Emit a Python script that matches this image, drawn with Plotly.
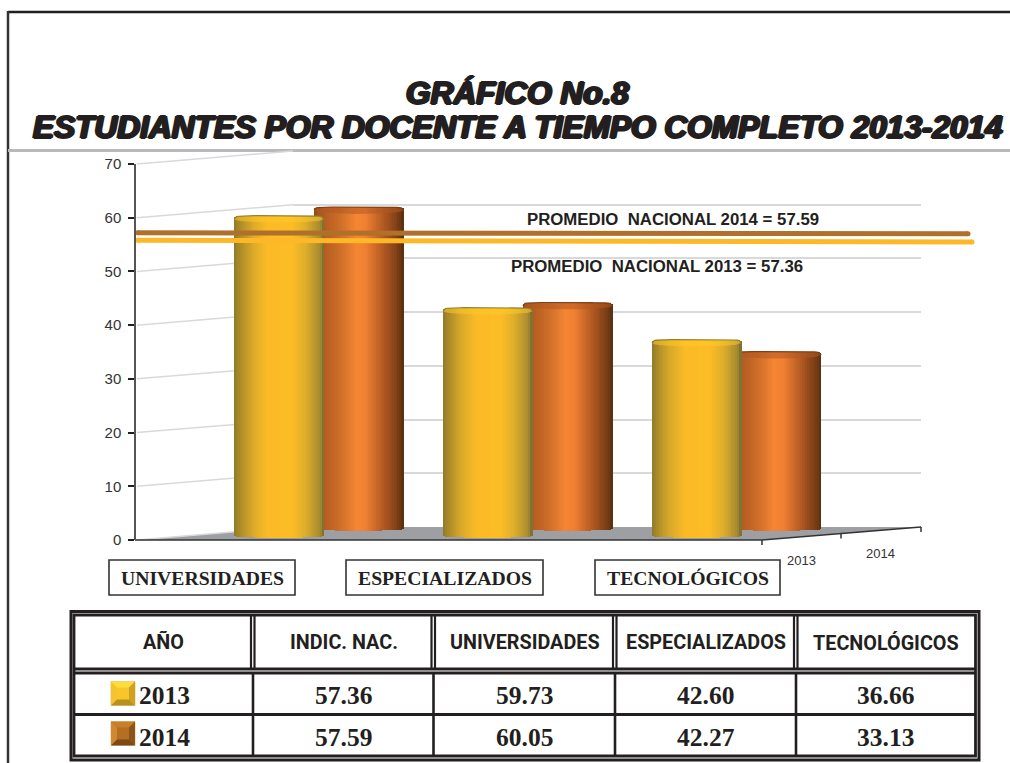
import plotly.graph_objects as go

# ---------- data ----------
categories = ["UNIVERSIDADES", "ESPECIALIZADOS", "TECNOLÓGICOS"]
years = ["2013", "2014"]
values_2013 = [59.73, 42.60, 36.66]
values_2014 = [60.05, 42.27, 33.13]
national_2013 = 57.36
national_2014 = 57.59
# where the two average lines are actually drawn on the value axis (left end, right end)
line_drawn_2014 = [57.2, 57.0]
line_drawn_2013 = [55.8, 55.5]
y_ticks = [0, 10, 20, 30, 40, 50, 60, 70]
table_header = ["AÑO", "INDIC. NAC.", "UNIVERSIDADES", "ESPECIALIZADOS", "TECNOLÓGICOS"]
title_lines = ["GRÁFICO No.8", "ESTUDIANTES POR DOCENTE A TIEMPO COMPLETO 2013-2014"]

# ---------- page geometry ----------
W, H = 1010, 763
def X(px): return px / W
def Y(py): return 1 - py / H
PX_PER_UNIT = 376 / 70
FRONT_ZERO, MID_ZERO, BACK_ZERO = 540, 533, 527
def domain_y(zero): return [Y(zero), Y(zero - 70 * PX_PER_UNIT)]
X0_13, X0_14, STEP = 279.0, 358.8, 208.85
BAR_PX = 89.5
def xrange(x0): return [(0 - x0) / STEP, (W - x0) / STEP]
def front(v): return FRONT_ZERO - v * PX_PER_UNIT
def back(v): return BACK_ZERO - v * PX_PER_UNIT

# ---------- cylinder helpers ----------
def hex2rgb(c): return [int(c[i:i + 2], 16) for i in (1, 3, 5)]
def ramp(t, stops):
    for (t0, c0), (t1, c1) in zip(stops, stops[1:]):
        if t <= t1:
            f = (t - t0) / (t1 - t0)
            a, b = hex2rgb(c0), hex2rgb(c1)
            return "rgb(%d,%d,%d)" % tuple(a[i] + (b[i] - a[i]) * f for i in range(3))
    return stops[-1][1]

GOLD = [(-1, "#8a7a30"), (-.94, "#a08428"), (-.6, "#d8a92a"), (-.25, "#fcbb26"), (.3, "#fdbd26"),
        (.6, "#deae2c"), (.92, "#a58a30"), (1, "#756a30")]
COPPER = [(-1, "#8f4a1c"), (-.9, "#a9561f"), (-.4, "#cf6f2a"), (-.05, "#f58634"), (.15, "#f28233"),
          (.55, "#b25a22"), (.92, "#743a14"), (1, "#54300f")]
N = 46
WIDTH = BAR_PX / STEP
ts = [-1 + (2 * i + 1) / N for i in range(N)]
top_dome = .65
bot_dome = .3
bot_c = .72

def dome(t, p=5): return top_dome * (1 - abs(t) ** p) ** (1 / p)
def cyl(vals, stops):
    xs, hs, bs, cs = [], [], [], []
    for i, v in enumerate(vals):
        for t in ts:
            xs.append(i + t * WIDTH / 2)
            b = bot_c - bot_dome * (1 - t * t) ** .5
            bs.append(b)
            hs.append(v + dome(t) - b)
            cs.append(ramp(t, stops))
    return go.Bar(x=xs, y=hs, base=bs, width=WIDTH / N * 1.25, marker=dict(color=cs, line_width=0),
                  showlegend=False, hoverinfo="skip")

def cap(vals, xa, ya, fill, edge):
    fx, fy, ex, ey = [], [], [], []
    grid = [-1 + k / 20 for k in range(41)]
    for i, v in enumerate(vals):
        for t in grid:
            fx.append(i + t * WIDTH / 2); fy.append(v + dome(t))
            ex.append(i + t * WIDTH / 2); ey.append(v + dome(t))
        for t in reversed(grid):
            fx.append(i + t * WIDTH / 2); fy.append(v - top_dome * (1 - t * t) ** .5)
        fx.append(None); fy.append(None); ex.append(None); ey.append(None)
    return [
        go.Scatter(x=fx, y=fy, xaxis=xa, yaxis=ya, mode="lines", fill="toself", fillcolor=fill,
                   line=dict(width=0), showlegend=False, hoverinfo="skip"),
        go.Scatter(x=ex, y=ey, xaxis=xa, yaxis=ya, mode="lines", line=dict(color=edge, width=1.2),
                   showlegend=False, hoverinfo="skip"),
    ]

fig = go.Figure()
# back wall (gridlines only)
fig.add_trace(go.Scatter(x=[0], y=[0], xaxis="x", yaxis="y", mode="markers", marker_opacity=0,
                         showlegend=False, hoverinfo="skip"))
# 2014 row sits behind 2013
b14 = cyl(values_2014, COPPER); b14.update(xaxis="x2", yaxis="y2"); fig.add_trace(b14)
for tr in cap(values_2014, "x2", "y2", "rgba(178,88,32,0.55)", "#7c4217"):
    fig.add_trace(tr)
b13 = cyl(values_2013, GOLD); b13.update(xaxis="x3", yaxis="y3"); fig.add_trace(b13)
for tr in cap(values_2013, "x3", "y3", "rgba(255,200,38,0.55)", "#92802f"):
    fig.add_trace(tr)

# average lines
line_x = {"2014": [137.5, 968], "2013": [137.5, 972]}
for drawn, key, col in [(line_drawn_2014, "2014", "#b06f2a"), (line_drawn_2013, "2013", "#fdb827")]:
    fig.add_trace(go.Scatter(x=[(p - X0_13) / STEP for p in line_x[key]], y=drawn, xaxis="x3", yaxis="y3",
                             mode="lines+markers", line=dict(color=col, width=5), marker=dict(color=col, size=5),
                             showlegend=False, hoverinfo="skip"))

# ---------- shapes ----------
shapes = []
def line(x0, y0, x1, y1, color="#231f20", width=2):
    shapes.append(dict(type="line", xref="paper", yref="paper", x0=X(x0), y0=Y(y0), x1=X(x1), y1=Y(y1),
                       line=dict(color=color, width=width), layer="below"))
def rect(x0, y0, x1, y1, color="#231f20", width=2, fill=None):
    shapes.append(dict(type="rect", xref="paper", yref="paper", x0=X(x0), y0=Y(y0), x1=X(x1), y1=Y(y1),
                       line=dict(color=color, width=width), fillcolor=fill or "rgba(0,0,0,0)", layer="below"))
def poly(pts, fill):
    d = "M" + " L".join(f"{X(a):.5f},{Y(b):.5f}" for a, b in pts) + " Z"
    shapes.append(dict(type="path", xref="paper", yref="paper", path=d, fillcolor=fill, line_width=0, layer="below"))

# page frame and title rule
line(8, 12, W, 12, "#231f20", 2.5)
line(8, 11, 8, H, "#333333", 2.5)
line(8, 150.5, W, 150.5, "#b8b8bd", 3)

# floor
poly([(135, 540), (293, 527), (921, 527), (762, 540)], "#9d9fa2")
# skewed side-wall gridlines
for v in y_ticks:
    line(137, front(v), 293, back(v), "#d9d9db", 1.5)
# floor edges and depth ticks
line(135, 540, 762, 540, "#333333", 1.5)
line(762, 540, 921, 527, "#333333", 1.5)
for (a, b) in [(762, 540), (841, 533.5), (921, 527)]:
    line(a, b, a, b + 5, "#333333", 1.5)

# category boxes
for (x0, x1) in [(109, 295), (346, 543), (595, 780)]:
    rect(x0, 560, x1, 595, "#333333", 1.6)

# table
rect(71, 611.5, 979, 760, "#231f20", 3)
rect(74, 615, 975.5, 756, "#231f20", 2.8)
col_lines = [253, 433.5, 615, 796]
for c in col_lines:
    line(c - 2, 615, c - 2, 670, "#231f20", 2.2)
    line(c + 1.5, 615, c + 1.5, 670, "#231f20", 2.2)
    line(c, 673, c, 756, "#231f20", 2.6)
line(74, 669, 975.5, 669, "#231f20", 2.8)
line(74, 673, 975.5, 673, "#231f20", 2.8)
line(74, 714.5, 975.5, 714.5, "#231f20", 3)

# bevelled legend swatches
def swatch(x0, y0, size, border, face, top, left, right, bottom):
    x1, y1 = x0 + size, y0 + size
    i = 6
    rect(x0, y0, x1, y1, border, 1, face)
    poly([(x0, y0), (x1, y0), (x1 - i, y0 + i), (x0 + i, y0 + i)], top)
    poly([(x0, y0), (x0 + i, y0 + i), (x0 + i, y1 - i), (x0, y1)], left)
    poly([(x1, y0), (x1 - i, y0 + i), (x1 - i, y1 - i), (x1, y1)], right)
    poly([(x0, y1), (x0 + i, y1 - i), (x1 - i, y1 - i), (x1, y1)], bottom)
swatch(111, 681.5, 24, "#e5cf8c", "#f8c62b", "#ffdd3e", "#f3c430", "#cfa022", "#b8901f")
swatch(111, 721.5, 24, "#dcc9a0", "#b56f20", "#c77f2a", "#cf892f", "#8a5518", "#7c4a14")

# ---------- text ----------
SERIF = "Liberation Serif"
ARIAL = "Liberation Sans"
ROBOTO = "Roboto"
ann = []
def text(s, x, y, family, size, color="#231f20", weight="normal", anchor="center", **font):
    ann.append(dict(text=s, xref="paper", yref="paper", x=X(x), y=Y(y), xanchor=anchor, yanchor="middle",
                    showarrow=False, align=anchor,
                    font=dict(family=family, size=size, color=color, weight=weight, **font)))

shadow = "1.4px 0 0 #231f20, -1.4px 0 0 #231f20, 0 0.8px 0 #231f20, 0 -0.8px 0 #231f20"
text(title_lines[0], 517.5, 93, ARIAL, 31.6, weight="bold", style="italic", shadow=shadow)
text(title_lines[1], 517.5, 127, ARIAL, 31.6, weight="bold", style="italic", shadow=shadow)

text(f"PROMEDIO  NACIONAL {years[1]} = {national_2014}", 672.7, 219, ARIAL, 16.8, weight="bold")
text(f"PROMEDIO  NACIONAL {years[0]} = {national_2013}", 656.7, 266, ARIAL, 16.8, weight="bold")

for name, cx in zip(categories, [202, 444.5, 687.5]):
    text(name, cx, 578, SERIF, 19.7, weight="bold")
text(years[0], 801, 560.5, ARIAL, 13, color="#333333")
text(years[1], 880.5, 553, ARIAL, 13, color="#333333")

col_centers = [163, 343.5, 524.5, 705.5, 885.5]
for h, cx in zip(table_header, col_centers):
    text(h, cx, 642.5, ROBOTO, 19.8, weight="bold")
rows = [(years[0], national_2013, values_2013, 695), (years[1], national_2014, values_2014, 737)]
for yr, nat, vals, yy in rows:
    text(yr, 137, yy, SERIF, 25.5, weight="bold", anchor="left")
    for v, cx in zip([nat] + vals, col_centers[1:]):
        text(f"{v:.2f}", cx, yy, SERIF, 25.5, weight="bold")

# ---------- layout ----------
hidden = dict(visible=False, fixedrange=True, automargin=False)
fig.update_layout(
    width=W, height=H, margin=dict(l=0, r=0, t=0, b=0, autoexpand=False), autosize=False,
    paper_bgcolor="white", plot_bgcolor="rgba(0,0,0,0)", barmode="overlay", bargap=0,
    showlegend=False, shapes=shapes, annotations=ann,
    # back wall
    xaxis=dict(domain=[X(293), X(921)], range=[0, 1], **hidden),
    yaxis=dict(domain=domain_y(BACK_ZERO), range=[0, 70], tickvals=y_ticks, showgrid=True,
               gridcolor="#d9d9db", gridwidth=1.5, zeroline=False, showticklabels=False, ticks="",
               showline=False, fixedrange=True, automargin=False),
    # 2014 row
    xaxis2=dict(domain=[0, 1], range=xrange(X0_14), anchor="y2", **hidden),
    yaxis2=dict(domain=domain_y(MID_ZERO), range=[0, 70], anchor="x2", **hidden),
    # 2013 row and the visible value axis
    xaxis3=dict(domain=[0, 1], range=xrange(X0_13), anchor="y3", **hidden),
    yaxis3=dict(domain=domain_y(FRONT_ZERO), range=[0, 70], anchor="free", position=X(135), side="left",
                tickvals=y_ticks, ticks="outside", ticklen=6, tickcolor="#231f20", tickwidth=1.5,
                showline=True, linecolor="#555555", linewidth=1.5, showgrid=False, zeroline=False,
                tickfont=dict(family=ARIAL, size=15, color="#333333"), ticklabelstandoff=4,
                fixedrange=True, automargin=False),
)
fig.write_html("out.html", config=dict(displayModeBar=False),
               post_script="document.body.style.margin='0';document.body.style.overflow='hidden';")
